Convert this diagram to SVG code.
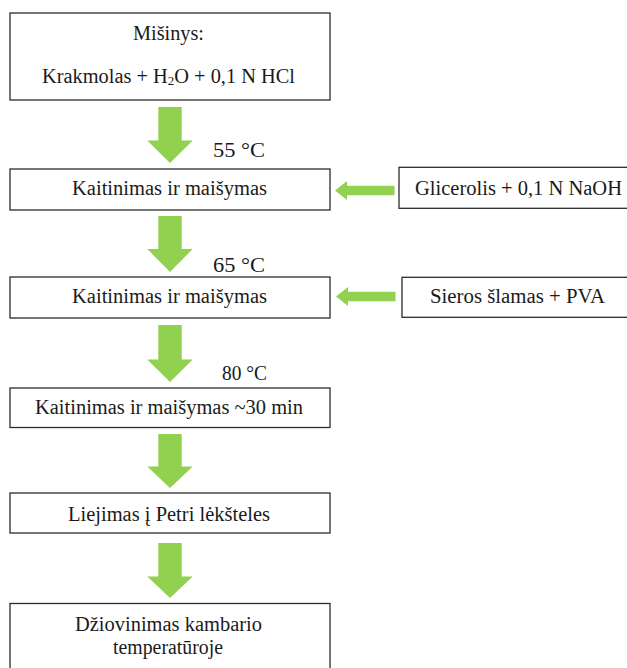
<svg xmlns="http://www.w3.org/2000/svg" width="627" height="668" viewBox="0 0 627 668">
<style>
.box{fill:#fff;stroke:#2b2b2b;stroke-width:1.3}
.t{font-family:"Liberation Serif","Times New Roman",serif;font-size:20.5px;fill:#1a1a1a}
.c{text-anchor:middle}
.arr{fill:#92d050}
</style>
<rect width="627" height="668" fill="#fff"/>
<g id="connectors">
<polygon class="arr" points="158.3,107 181.7,107 181.7,140.5 192.7,140.5 170,163 147.3,140.5 158.3,140.5"/>
<polygon class="arr" points="158.3,216 181.7,216 181.7,249 192.7,249 170,272 147.3,249 158.3,249"/>
<polygon class="arr" points="158.3,325 181.7,325 181.7,359.5 192.7,359.5 170,382 147.3,359.5 158.3,359.5"/>
<polygon class="arr" points="158.3,434 181.7,434 181.7,466.5 192.7,466.5 170,488 147.3,466.5 158.3,466.5"/>
<polygon class="arr" points="158.3,543 181.7,543 181.7,576.5 192.7,576.5 170,598 147.3,576.5 158.3,576.5"/>
<polygon class="arr" points="394.5,185.8 347,185.8 347,181 335,190.5 347,200 347,195.2 394.5,195.2"/>
<polygon class="arr" points="395.5,291.8 348,291.8 348,287 336,296.5 348,306 348,301.2 395.5,301.2"/>
</g>
<g id="n_mix">
<rect class="box" x="10" y="13" width="320" height="87"/>
<text class="t c" x="168.5" y="40" textLength="71" lengthAdjust="spacingAndGlyphs">Mišinys:</text>
<text class="t c" x="168.5" y="83" textLength="253" lengthAdjust="spacingAndGlyphs">Krakmolas + H<tspan font-size="13" dy="1.5">2</tspan><tspan dy="-1.5">O + 0,1 N HCl</tspan></text>
</g>
<g id="l_55"><text class="t" x="213" y="157" textLength="52" lengthAdjust="spacingAndGlyphs">55 °C</text></g>
<g id="n_heat1">
<rect class="box" x="10" y="169" width="320" height="41"/>
<text class="t c" x="169.5" y="195" textLength="195" lengthAdjust="spacingAndGlyphs">Kaitinimas ir maišymas</text>
</g>
<g id="n_glyc">
<rect class="box" x="399" y="167.3" width="240" height="41"/>
<text class="t c" x="518.5" y="195" textLength="207" lengthAdjust="spacingAndGlyphs">Glicerolis + 0,1 N NaOH</text>
</g>
<g id="l_65"><text class="t" x="213" y="272" textLength="52" lengthAdjust="spacingAndGlyphs">65 °C</text></g>
<g id="n_heat2">
<rect class="box" x="10" y="277" width="320" height="41"/>
<text class="t c" x="169.5" y="303" textLength="195" lengthAdjust="spacingAndGlyphs">Kaitinimas ir maišymas</text>
</g>
<g id="n_sulf">
<rect class="box" x="402" y="277.3" width="240" height="40"/>
<text class="t c" x="517.5" y="303" textLength="175" lengthAdjust="spacingAndGlyphs">Sieros šlamas + PVA</text>
</g>
<g id="l_80"><text class="t" x="222" y="380" textLength="45" lengthAdjust="spacingAndGlyphs">80 °C</text></g>
<g id="n_heat3">
<rect class="box" x="10" y="388" width="320" height="39.5"/>
<text class="t c" x="169" y="414" textLength="268" lengthAdjust="spacingAndGlyphs">Kaitinimas ir maišymas ~30 min</text>
</g>
<g id="n_pour">
<rect class="box" x="10" y="493" width="320" height="40"/>
<text class="t c" x="169" y="521" textLength="202" lengthAdjust="spacingAndGlyphs">Liejimas į Petri lėkšteles</text>
</g>
<g id="n_dry">
<rect class="box" x="10" y="603.5" width="320" height="80"/>
<text class="t c" x="168.5" y="631" textLength="187" lengthAdjust="spacingAndGlyphs">Džiovinimas kambario</text>
<text class="t c" x="168" y="654" textLength="110" lengthAdjust="spacingAndGlyphs">temperatūroje</text>
</g>
</svg>
